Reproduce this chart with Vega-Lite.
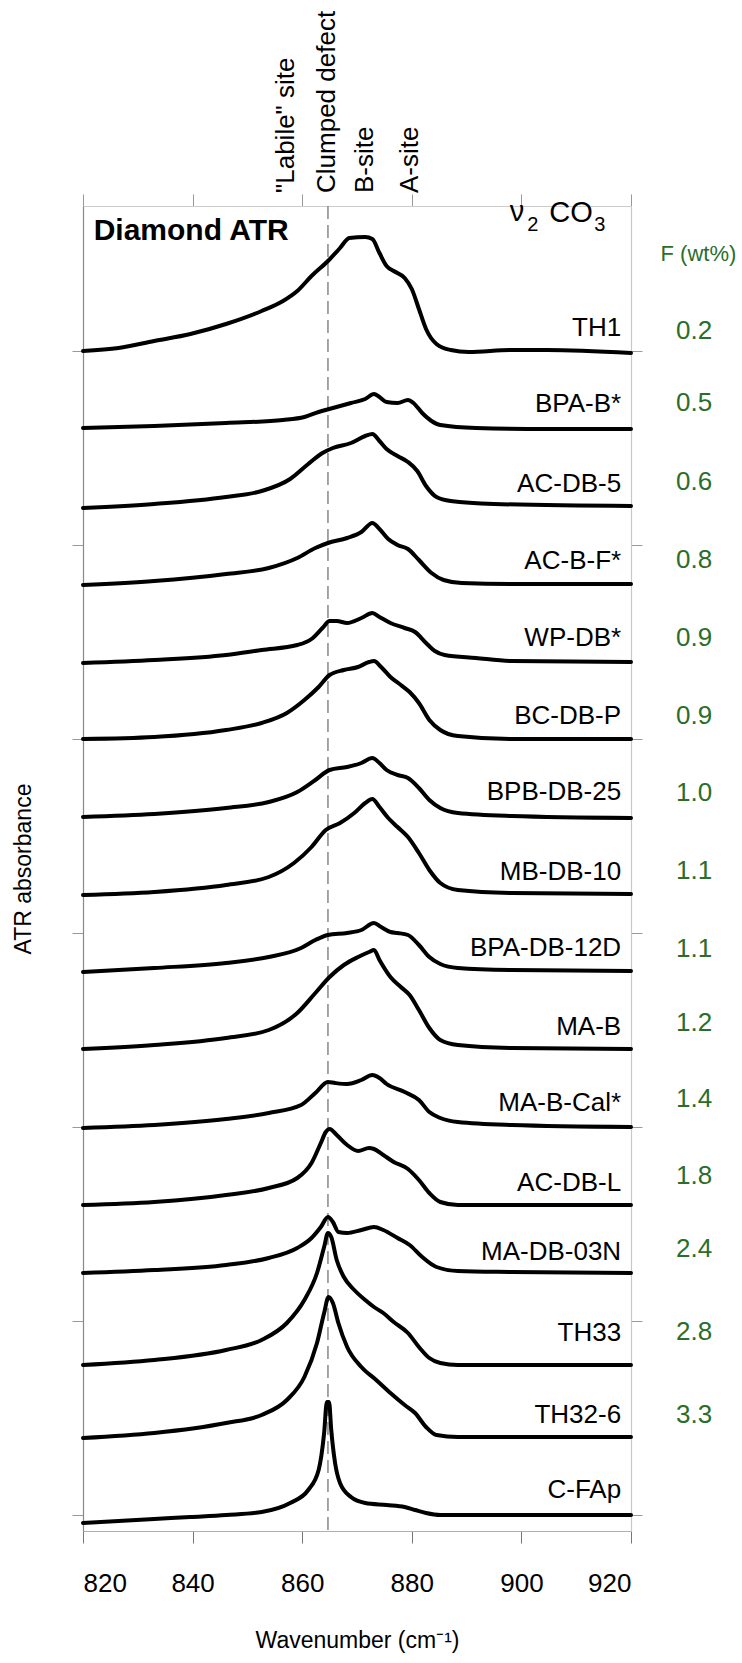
{
"$schema": "https://vega.github.io/schema/vega-lite/v6.json",
"width": 548, "height": 1325,
"autosize": {"type": "none"},
"padding": {"left": 83, "top": 206, "right": 111, "bottom": 132},
"background": "white",
"config": {"view": {"stroke": null}, "font": "Liberation Sans"},
"datasets": {
"spectra": [
{"s":"TH1","x":820,"y":11.80},{"s":"TH1","x":826.5,"y":11.83},{"s":"TH1","x":833,"y":11.90},{"s":"TH1","x":839.6,"y":11.97},{"s":"TH1","x":846.1,"y":12.07},{"s":"TH1","x":852.6,"y":12.20},{"s":"TH1","x":856.5,"y":12.30},{"s":"TH1","x":859.1,"y":12.40},{"s":"TH1","x":861.7,"y":12.55},{"s":"TH1","x":864.7,"y":12.70},{"s":"TH1","x":866.9,"y":12.83},{"s":"TH1","x":868.6,"y":12.93},{"s":"TH1","x":871.5,"y":12.94},{"s":"TH1","x":872.8,"y":12.92},{"s":"TH1","x":874.1,"y":12.78},{"s":"TH1","x":875.4,"y":12.65},{"s":"TH1","x":876.7,"y":12.60},{"s":"TH1","x":878.7,"y":12.53},{"s":"TH1","x":880,"y":12.42},{"s":"TH1","x":881.3,"y":12.22},{"s":"TH1","x":882.6,"y":12.02},{"s":"TH1","x":884.5,"y":11.87},{"s":"TH1","x":887.1,"y":11.81},{"s":"TH1","x":890.4,"y":11.79},{"s":"TH1","x":898.2,"y":11.81},{"s":"TH1","x":904.7,"y":11.81},{"s":"TH1","x":920,"y":11.78},
{"s":"BPA-B*","x":820,"y":11.03},{"s":"BPA-B*","x":833,"y":11.05},{"s":"BPA-B*","x":846.1,"y":11.08},{"s":"BPA-B*","x":856.5,"y":11.11},{"s":"BPA-B*","x":860.4,"y":11.14},{"s":"BPA-B*","x":863,"y":11.19},{"s":"BPA-B*","x":865.6,"y":11.23},{"s":"BPA-B*","x":868.9,"y":11.28},{"s":"BPA-B*","x":871.5,"y":11.32},{"s":"BPA-B*","x":873.1,"y":11.37},{"s":"BPA-B*","x":874.1,"y":11.34},{"s":"BPA-B*","x":875.4,"y":11.29},{"s":"BPA-B*","x":877.4,"y":11.28},{"s":"BPA-B*","x":879.3,"y":11.31},{"s":"BPA-B*","x":880.3,"y":11.28},{"s":"BPA-B*","x":881.9,"y":11.18},{"s":"BPA-B*","x":883.6,"y":11.10},{"s":"BPA-B*","x":885.2,"y":11.06},{"s":"BPA-B*","x":891.7,"y":11.03},{"s":"BPA-B*","x":904.7,"y":11.02},{"s":"BPA-B*","x":920,"y":11.02},
{"s":"AC-DB-5","x":820,"y":10.23},{"s":"AC-DB-5","x":833,"y":10.27},{"s":"AC-DB-5","x":846.1,"y":10.34},{"s":"AC-DB-5","x":852.6,"y":10.40},{"s":"AC-DB-5","x":857.8,"y":10.52},{"s":"AC-DB-5","x":861.1,"y":10.67},{"s":"AC-DB-5","x":863.7,"y":10.78},{"s":"AC-DB-5","x":865.6,"y":10.83},{"s":"AC-DB-5","x":868.9,"y":10.88},{"s":"AC-DB-5","x":871.5,"y":10.95},{"s":"AC-DB-5","x":872.8,"y":10.97},{"s":"AC-DB-5","x":874.1,"y":10.90},{"s":"AC-DB-5","x":875.4,"y":10.82},{"s":"AC-DB-5","x":877.4,"y":10.75},{"s":"AC-DB-5","x":879.3,"y":10.69},{"s":"AC-DB-5","x":881.0,"y":10.60},{"s":"AC-DB-5","x":882.6,"y":10.45},{"s":"AC-DB-5","x":884.5,"y":10.34},{"s":"AC-DB-5","x":887.1,"y":10.30},{"s":"AC-DB-5","x":895.0,"y":10.27},{"s":"AC-DB-5","x":920,"y":10.25},
{"s":"AC-B-F*","x":820,"y":9.46},{"s":"AC-B-F*","x":833,"y":9.50},{"s":"AC-B-F*","x":846.1,"y":9.57},{"s":"AC-B-F*","x":853.9,"y":9.63},{"s":"AC-B-F*","x":859.1,"y":9.73},{"s":"AC-B-F*","x":862.4,"y":9.83},{"s":"AC-B-F*","x":864.7,"y":9.88},{"s":"AC-B-F*","x":868.2,"y":9.93},{"s":"AC-B-F*","x":870.8,"y":9.99},{"s":"AC-B-F*","x":872.8,"y":10.08},{"s":"AC-B-F*","x":874.1,"y":10.02},{"s":"AC-B-F*","x":875.7,"y":9.92},{"s":"AC-B-F*","x":877.4,"y":9.86},{"s":"AC-B-F*","x":879.3,"y":9.82},{"s":"AC-B-F*","x":881.3,"y":9.71},{"s":"AC-B-F*","x":883.6,"y":9.58},{"s":"AC-B-F*","x":885.8,"y":9.51},{"s":"AC-B-F*","x":889.1,"y":9.48},{"s":"AC-B-F*","x":898.2,"y":9.47},{"s":"AC-B-F*","x":920,"y":9.47},
{"s":"WP-DB*","x":820,"y":8.68},{"s":"WP-DB*","x":833,"y":8.71},{"s":"WP-DB*","x":846.1,"y":8.76},{"s":"WP-DB*","x":852.6,"y":8.81},{"s":"WP-DB*","x":859.1,"y":8.86},{"s":"WP-DB*","x":861.7,"y":8.92},{"s":"WP-DB*","x":863.7,"y":9.03},{"s":"WP-DB*","x":865,"y":9.10},{"s":"WP-DB*","x":866.3,"y":9.10},{"s":"WP-DB*","x":868.2,"y":9.08},{"s":"WP-DB*","x":870.8,"y":9.13},{"s":"WP-DB*","x":872.8,"y":9.18},{"s":"WP-DB*","x":874.1,"y":9.14},{"s":"WP-DB*","x":876.1,"y":9.08},{"s":"WP-DB*","x":878.7,"y":9.03},{"s":"WP-DB*","x":880.6,"y":8.99},{"s":"WP-DB*","x":882.6,"y":8.88},{"s":"WP-DB*","x":884.2,"y":8.80},{"s":"WP-DB*","x":886,"y":8.76},{"s":"WP-DB*","x":891.7,"y":8.73},{"s":"WP-DB*","x":898.2,"y":8.70},{"s":"WP-DB*","x":920,"y":8.69},
{"s":"BC-DB-P","x":820,"y":7.92},{"s":"BC-DB-P","x":833,"y":7.94},{"s":"BC-DB-P","x":846.1,"y":8.01},{"s":"BC-DB-P","x":852.6,"y":8.08},{"s":"BC-DB-P","x":857.2,"y":8.18},{"s":"BC-DB-P","x":860.4,"y":8.31},{"s":"BC-DB-P","x":863,"y":8.44},{"s":"BC-DB-P","x":865,"y":8.56},{"s":"BC-DB-P","x":867.6,"y":8.61},{"s":"BC-DB-P","x":870.2,"y":8.64},{"s":"BC-DB-P","x":872.2,"y":8.69},{"s":"BC-DB-P","x":873.1,"y":8.70},{"s":"BC-DB-P","x":874.4,"y":8.64},{"s":"BC-DB-P","x":876.1,"y":8.54},{"s":"BC-DB-P","x":878,"y":8.46},{"s":"BC-DB-P","x":879.6,"y":8.39},{"s":"BC-DB-P","x":881.3,"y":8.28},{"s":"BC-DB-P","x":883.2,"y":8.11},{"s":"BC-DB-P","x":885.2,"y":8.01},{"s":"BC-DB-P","x":888.4,"y":7.95},{"s":"BC-DB-P","x":898.2,"y":7.92},{"s":"BC-DB-P","x":920,"y":7.92},
{"s":"BPB-DB-25","x":820,"y":7.14},{"s":"BPB-DB-25","x":833,"y":7.17},{"s":"BPB-DB-25","x":846.1,"y":7.23},{"s":"BPB-DB-25","x":853.9,"y":7.29},{"s":"BPB-DB-25","x":859.1,"y":7.39},{"s":"BPB-DB-25","x":862.4,"y":7.51},{"s":"BPB-DB-25","x":865,"y":7.61},{"s":"BPB-DB-25","x":868.2,"y":7.64},{"s":"BPB-DB-25","x":870.8,"y":7.68},{"s":"BPB-DB-25","x":872.8,"y":7.73},{"s":"BPB-DB-25","x":874.1,"y":7.68},{"s":"BPB-DB-25","x":875.4,"y":7.61},{"s":"BPB-DB-25","x":877.4,"y":7.56},{"s":"BPB-DB-25","x":879.3,"y":7.53},{"s":"BPB-DB-25","x":881.3,"y":7.43},{"s":"BPB-DB-25","x":883.2,"y":7.31},{"s":"BPB-DB-25","x":885.2,"y":7.23},{"s":"BPB-DB-25","x":888.4,"y":7.18},{"s":"BPB-DB-25","x":898.2,"y":7.15},{"s":"BPB-DB-25","x":920,"y":7.13},
{"s":"MB-DB-10","x":820,"y":6.36},{"s":"MB-DB-10","x":833,"y":6.39},{"s":"MB-DB-10","x":846.1,"y":6.46},{"s":"MB-DB-10","x":853.9,"y":6.54},{"s":"MB-DB-10","x":858.5,"y":6.68},{"s":"MB-DB-10","x":861.7,"y":6.84},{"s":"MB-DB-10","x":864.3,"y":7.01},{"s":"MB-DB-10","x":866.9,"y":7.08},{"s":"MB-DB-10","x":869.5,"y":7.18},{"s":"MB-DB-10","x":871.5,"y":7.28},{"s":"MB-DB-10","x":872.8,"y":7.32},{"s":"MB-DB-10","x":874.1,"y":7.24},{"s":"MB-DB-10","x":875.7,"y":7.13},{"s":"MB-DB-10","x":877.4,"y":7.04},{"s":"MB-DB-10","x":879.3,"y":6.94},{"s":"MB-DB-10","x":881.3,"y":6.78},{"s":"MB-DB-10","x":883.2,"y":6.61},{"s":"MB-DB-10","x":885.2,"y":6.48},{"s":"MB-DB-10","x":888.4,"y":6.41},{"s":"MB-DB-10","x":898.2,"y":6.38},{"s":"MB-DB-10","x":920,"y":6.37},
{"s":"BPA-DB-12D","x":820,"y":5.59},{"s":"BPA-DB-12D","x":833,"y":5.63},{"s":"BPA-DB-12D","x":846.1,"y":5.68},{"s":"BPA-DB-12D","x":853.9,"y":5.74},{"s":"BPA-DB-12D","x":859.8,"y":5.83},{"s":"BPA-DB-12D","x":862.4,"y":5.91},{"s":"BPA-DB-12D","x":864.7,"y":5.96},{"s":"BPA-DB-12D","x":868.2,"y":5.98},{"s":"BPA-DB-12D","x":870.8,"y":6.01},{"s":"BPA-DB-12D","x":873.1,"y":6.08},{"s":"BPA-DB-12D","x":874.4,"y":6.04},{"s":"BPA-DB-12D","x":876.1,"y":5.99},{"s":"BPA-DB-12D","x":877.4,"y":5.98},{"s":"BPA-DB-12D","x":879.3,"y":5.96},{"s":"BPA-DB-12D","x":881.3,"y":5.86},{"s":"BPA-DB-12D","x":883.2,"y":5.74},{"s":"BPA-DB-12D","x":885.2,"y":5.67},{"s":"BPA-DB-12D","x":888.4,"y":5.63},{"s":"BPA-DB-12D","x":898.2,"y":5.61},{"s":"BPA-DB-12D","x":920,"y":5.60},
{"s":"MA-B","x":820,"y":4.82},{"s":"MA-B","x":833,"y":4.86},{"s":"MA-B","x":846.1,"y":4.93},{"s":"MA-B","x":853.9,"y":5.01},{"s":"MA-B","x":859.1,"y":5.18},{"s":"MA-B","x":862.4,"y":5.38},{"s":"MA-B","x":865,"y":5.54},{"s":"MA-B","x":867.6,"y":5.66},{"s":"MA-B","x":870.2,"y":5.74},{"s":"MA-B","x":872.2,"y":5.79},{"s":"MA-B","x":873.1,"y":5.81},{"s":"MA-B","x":874.1,"y":5.71},{"s":"MA-B","x":876.1,"y":5.54},{"s":"MA-B","x":878,"y":5.44},{"s":"MA-B","x":879.6,"y":5.36},{"s":"MA-B","x":881.3,"y":5.21},{"s":"MA-B","x":883.2,"y":5.03},{"s":"MA-B","x":885.2,"y":4.91},{"s":"MA-B","x":888.4,"y":4.86},{"s":"MA-B","x":898.2,"y":4.83},{"s":"MA-B","x":920,"y":4.82},
{"s":"MA-B-Cal*","x":820,"y":4.03},{"s":"MA-B-Cal*","x":833,"y":4.06},{"s":"MA-B-Cal*","x":846.1,"y":4.12},{"s":"MA-B-Cal*","x":853.9,"y":4.18},{"s":"MA-B-Cal*","x":859.8,"y":4.26},{"s":"MA-B-Cal*","x":862.4,"y":4.38},{"s":"MA-B-Cal*","x":864.7,"y":4.49},{"s":"MA-B-Cal*","x":866,"y":4.48},{"s":"MA-B-Cal*","x":868.2,"y":4.47},{"s":"MA-B-Cal*","x":870.8,"y":4.51},{"s":"MA-B-Cal*","x":872.8,"y":4.56},{"s":"MA-B-Cal*","x":874.1,"y":4.53},{"s":"MA-B-Cal*","x":875.4,"y":4.47},{"s":"MA-B-Cal*","x":878.7,"y":4.39},{"s":"MA-B-Cal*","x":881.3,"y":4.31},{"s":"MA-B-Cal*","x":883.2,"y":4.19},{"s":"MA-B-Cal*","x":885.2,"y":4.13},{"s":"MA-B-Cal*","x":888.4,"y":4.09},{"s":"MA-B-Cal*","x":898.2,"y":4.06},{"s":"MA-B-Cal*","x":920,"y":4.04},
{"s":"AC-DB-L","x":820,"y":3.26},{"s":"AC-DB-L","x":833,"y":3.29},{"s":"AC-DB-L","x":846.1,"y":3.36},{"s":"AC-DB-L","x":853.9,"y":3.43},{"s":"AC-DB-L","x":859.1,"y":3.53},{"s":"AC-DB-L","x":861.7,"y":3.68},{"s":"AC-DB-L","x":863.4,"y":3.88},{"s":"AC-DB-L","x":864.3,"y":3.99},{"s":"AC-DB-L","x":865,"y":4.02},{"s":"AC-DB-L","x":866.3,"y":3.96},{"s":"AC-DB-L","x":868.2,"y":3.86},{"s":"AC-DB-L","x":870.2,"y":3.80},{"s":"AC-DB-L","x":872.2,"y":3.83},{"s":"AC-DB-L","x":873.1,"y":3.82},{"s":"AC-DB-L","x":874.8,"y":3.76},{"s":"AC-DB-L","x":876.7,"y":3.69},{"s":"AC-DB-L","x":879.3,"y":3.62},{"s":"AC-DB-L","x":881.3,"y":3.51},{"s":"AC-DB-L","x":883.2,"y":3.38},{"s":"AC-DB-L","x":885.2,"y":3.29},{"s":"AC-DB-L","x":888.4,"y":3.26},{"s":"AC-DB-L","x":898.2,"y":3.26},{"s":"AC-DB-L","x":920,"y":3.26},
{"s":"MA-DB-03N","x":820,"y":2.58},{"s":"MA-DB-03N","x":833,"y":2.61},{"s":"MA-DB-03N","x":846.1,"y":2.66},{"s":"MA-DB-03N","x":853.9,"y":2.73},{"s":"MA-DB-03N","x":859.1,"y":2.83},{"s":"MA-DB-03N","x":861.7,"y":2.93},{"s":"MA-DB-03N","x":863.4,"y":3.04},{"s":"MA-DB-03N","x":864.7,"y":3.14},{"s":"MA-DB-03N","x":865.6,"y":3.09},{"s":"MA-DB-03N","x":866.6,"y":2.99},{"s":"MA-DB-03N","x":868.2,"y":2.98},{"s":"MA-DB-03N","x":870.8,"y":3.01},{"s":"MA-DB-03N","x":873.1,"y":3.04},{"s":"MA-DB-03N","x":874.8,"y":3.01},{"s":"MA-DB-03N","x":877.4,"y":2.93},{"s":"MA-DB-03N","x":879.6,"y":2.86},{"s":"MA-DB-03N","x":881.9,"y":2.74},{"s":"MA-DB-03N","x":884.5,"y":2.64},{"s":"MA-DB-03N","x":888.4,"y":2.60},{"s":"MA-DB-03N","x":898.2,"y":2.59},{"s":"MA-DB-03N","x":920,"y":2.58},
{"s":"TH33","x":820,"y":1.66},{"s":"TH33","x":833,"y":1.71},{"s":"TH33","x":846.1,"y":1.81},{"s":"TH33","x":852.6,"y":1.91},{"s":"TH33","x":857.2,"y":2.08},{"s":"TH33","x":860.4,"y":2.31},{"s":"TH33","x":862.7,"y":2.58},{"s":"TH33","x":864,"y":2.84},{"s":"TH33","x":864.7,"y":2.98},{"s":"TH33","x":865.3,"y":2.94},{"s":"TH33","x":866.3,"y":2.71},{"s":"TH33","x":867.6,"y":2.54},{"s":"TH33","x":869.5,"y":2.41},{"s":"TH33","x":871.5,"y":2.31},{"s":"TH33","x":873.1,"y":2.24},{"s":"TH33","x":874.8,"y":2.18},{"s":"TH33","x":876.7,"y":2.09},{"s":"TH33","x":879.3,"y":1.98},{"s":"TH33","x":881.3,"y":1.84},{"s":"TH33","x":883.2,"y":1.73},{"s":"TH33","x":885.2,"y":1.68},{"s":"TH33","x":888.4,"y":1.66},{"s":"TH33","x":898.2,"y":1.66},{"s":"TH33","x":920,"y":1.66},
{"s":"TH32-6","x":820,"y":0.93},{"s":"TH32-6","x":833,"y":0.98},{"s":"TH32-6","x":846.1,"y":1.08},{"s":"TH32-6","x":852.6,"y":1.16},{"s":"TH32-6","x":857.2,"y":1.31},{"s":"TH32-6","x":860.4,"y":1.54},{"s":"TH32-6","x":862.7,"y":1.88},{"s":"TH32-6","x":864,"y":2.18},{"s":"TH32-6","x":864.8,"y":2.34},{"s":"TH32-6","x":865.6,"y":2.28},{"s":"TH32-6","x":866.6,"y":2.08},{"s":"TH32-6","x":868.2,"y":1.84},{"s":"TH32-6","x":870.8,"y":1.64},{"s":"TH32-6","x":873.5,"y":1.51},{"s":"TH32-6","x":876.1,"y":1.38},{"s":"TH32-6","x":878.7,"y":1.26},{"s":"TH32-6","x":880.6,"y":1.18},{"s":"TH32-6","x":882.6,"y":1.04},{"s":"TH32-6","x":884.5,"y":0.96},{"s":"TH32-6","x":888.4,"y":0.94},{"s":"TH32-6","x":898.2,"y":0.94},{"s":"TH32-6","x":920,"y":0.94},
{"s":"C-FAp","x":820,"y":0.08},{"s":"C-FAp","x":833,"y":0.12},{"s":"C-FAp","x":839.6,"y":0.14},{"s":"C-FAp","x":846.1,"y":0.16},{"s":"C-FAp","x":852.6,"y":0.19},{"s":"C-FAp","x":857.8,"y":0.28},{"s":"C-FAp","x":861.1,"y":0.41},{"s":"C-FAp","x":863,"y":0.61},{"s":"C-FAp","x":864,"y":0.98},{"s":"C-FAp","x":864.5,"y":1.29},{"s":"C-FAp","x":864.9,"y":1.29},{"s":"C-FAp","x":865.3,"y":1.01},{"s":"C-FAp","x":866,"y":0.68},{"s":"C-FAp","x":866.9,"y":0.48},{"s":"C-FAp","x":868.9,"y":0.34},{"s":"C-FAp","x":871.5,"y":0.28},{"s":"C-FAp","x":875.4,"y":0.26},{"s":"C-FAp","x":878.7,"y":0.24},{"s":"C-FAp","x":880.6,"y":0.21},{"s":"C-FAp","x":882.6,"y":0.18},{"s":"C-FAp","x":885.2,"y":0.16},{"s":"C-FAp","x":898.2,"y":0.16},{"s":"C-FAp","x":920,"y":0.16}
],
"labels": [
{"n":"TH1","ly":12.03,"f":"0.2","fy":12.00},
{"n":"BPA-B*","ly":11.27,"f":"0.5","fy":11.28},
{"n":"AC-DB-5","ly":10.47,"f":"0.6","fy":10.49},
{"n":"AC-B-F*","ly":9.70,"f":"0.8","fy":9.71},
{"n":"WP-DB*","ly":8.93,"f":"0.9","fy":8.93},
{"n":"BC-DB-P","ly":8.15,"f":"0.9","fy":8.15},
{"n":"BPB-DB-25","ly":7.39,"f":"1.0","fy":7.38},
{"n":"MB-DB-10","ly":6.59,"f":"1.1","fy":6.60},
{"n":"BPA-DB-12D","ly":5.83,"f":"1.1","fy":5.82},
{"n":"MA-B","ly":5.04,"f":"1.2","fy":5.08},
{"n":"MA-B-Cal*","ly":4.28,"f":"1.4","fy":4.32},
{"n":"AC-DB-L","ly":3.48,"f":"1.8","fy":3.55},
{"n":"MA-DB-03N","ly":2.79,"f":"2.4","fy":2.82},
{"n":"TH33","ly":1.98,"f":"2.8","fy":1.99},
{"n":"TH32-6","ly":1.16,"f":"3.3","fy":1.16},
{"n":"C-FAp","ly":0.41,"f":"","fy":0.41}
],
"sites": [
{"t":"\"Labile\" site","x":857.0},
{"t":"Clumped defect","x":864.5},
{"t":"B-site","x":871.5},
{"t":"A-site","x":879.7}
]
},
"layer": [
{
"data": {"values": [{"x": 864.7}]},
"mark": {"type": "rule", "color": "#888888", "strokeWidth": 1.5, "strokeDash": [13, 6]},
"encoding": {
"x": {"field": "x", "type": "quantitative",
"scale": {"domain": [820, 920], "nice": false, "zero": false},
"axis": {"orient": "bottom", "values": [820, 840, 860, 880, 900, 920], "grid": false,
"tickSize": 12, "tickColor": "#777777", "domainColor": "#b0b0b0", "domainWidth": 1.2,
"labelFontSize": 26, "labelColor": "#000000", "labelFont": "Liberation Sans", "labelPadding": 27,
"title": "Wavenumber (cm⁻¹)", "titleFontSize": 23, "titleFontWeight": "normal", "titleColor": "#000000",
"titleFont": "Liberation Sans", "titlePadding": 33}}
}
},
{
"data": {"name": "spectra"},
"mark": {"type": "line", "color": "#000000", "strokeWidth": 4, "interpolate": "monotone", "strokeJoin": "round", "strokeCap": "round"},
"encoding": {
"x": {"field": "x", "type": "quantitative",
"scale": {"domain": [820, 920], "nice": false, "zero": false},
"axis": {"orient": "top", "values": [820, 840, 860, 880, 900, 920], "grid": false, "labels": false,
"tickSize": 12, "tickColor": "#999999", "domainColor": "#cccccc", "domainWidth": 1.2, "title": null}},
"y": {"field": "y", "type": "quantitative",
"scale": {"domain": [0, 13.25], "nice": false, "zero": false},
"axis": {"orient": "left", "values": [0.16, 2.10, 4.04, 5.98, 7.92, 9.86, 11.80], "grid": false, "labels": false,
"tickSize": 11, "tickColor": "#999999", "domainColor": "#888888", "domainWidth": 1.2,
"title": "ATR absorbance", "titleFontSize": 23, "titleFontWeight": "normal", "titleColor": "#000000",
"titleFont": "Liberation Sans", "titlePadding": 36}},
"detail": {"field": "s"}
}
},
{
"data": {"name": "labels"},
"mark": {"type": "text", "align": "right", "baseline": "middle", "fontSize": 26, "color": "#000000", "font": "Liberation Sans"},
"encoding": {
"x": {"datum": 918.2, "type": "quantitative", "scale": {"domain": [820, 920], "nice": false, "zero": false}, "axis": null},
"y": {"field": "ly", "type": "quantitative",
"scale": {"domain": [0, 13.25], "nice": false, "zero": false},
"axis": {"orient": "right", "values": [0.16, 2.10, 4.04, 5.98, 7.92, 9.86, 11.80], "grid": false, "labels": false,
"tickSize": 11, "tickColor": "#999999", "domainColor": "#c8c8c8", "domainWidth": 1.2, "title": null}},
"text": {"field": "n"}
}
},
{
"data": {"name": "labels"},
"mark": {"type": "text", "align": "center", "baseline": "middle", "fontSize": 26, "color": "#2a6e2a", "font": "Liberation Sans"},
"encoding": {
"x": {"datum": 931.5, "type": "quantitative", "scale": {"domain": [820, 920], "nice": false, "zero": false}, "axis": null},
"y": {"field": "fy", "type": "quantitative", "scale": {"domain": [0, 13.25], "nice": false, "zero": false}, "axis": null},
"text": {"field": "f"}
}
},
{
"data": {"values": [{"t": "F (wt%)", "x": 932.3, "y": 12.77}]},
"mark": {"type": "text", "align": "center", "baseline": "middle", "fontSize": 22, "color": "#2a6e2a", "font": "Liberation Sans"},
"encoding": {
"x": {"field": "x", "type": "quantitative", "scale": {"domain": [820, 920], "nice": false, "zero": false}, "axis": null},
"y": {"field": "y", "type": "quantitative", "scale": {"domain": [0, 13.25], "nice": false, "zero": false}, "axis": null},
"text": {"field": "t"}
}
},
{
"data": {"name": "sites"},
"mark": {"type": "text", "align": "left", "baseline": "middle", "angle": 270, "fontSize": 26, "color": "#000000", "font": "Liberation Sans"},
"encoding": {
"x": {"field": "x", "type": "quantitative", "scale": {"domain": [820, 920], "nice": false, "zero": false}, "axis": null},
"y": {"datum": 13.38, "type": "quantitative", "scale": {"domain": [0, 13.25], "nice": false, "zero": false}, "axis": null},
"text": {"field": "t"}
}
},
{
"data": {"values": [{"t": "Diamond ATR", "x": 821.95, "y": 13.0}]},
"mark": {"type": "text", "align": "left", "baseline": "middle", "fontSize": 30, "fontWeight": "bold", "color": "#000000", "font": "Liberation Sans"},
"encoding": {
"x": {"field": "x", "type": "quantitative", "scale": {"domain": [820, 920], "nice": false, "zero": false}, "axis": null},
"y": {"field": "y", "type": "quantitative", "scale": {"domain": [0, 13.25], "nice": false, "zero": false}, "axis": null},
"text": {"field": "t"}
}
},
{
"data": {"values": [{"t": "ν", "x": 899.2, "y": 13.19}, {"t": "CO", "x": 909.05, "y": 13.18}]},
"mark": {"type": "text", "align": "center", "baseline": "middle", "fontSize": 29, "color": "#000000", "font": "Liberation Sans"},
"encoding": {
"x": {"field": "x", "type": "quantitative", "scale": {"domain": [820, 920], "nice": false, "zero": false}, "axis": null},
"y": {"field": "y", "type": "quantitative", "scale": {"domain": [0, 13.25], "nice": false, "zero": false}, "axis": null},
"text": {"field": "t"}
}
},
{
"data": {"values": [{"t": "2", "x": 902.1, "y": 13.06}, {"t": "3", "x": 914.3, "y": 13.06}]},
"mark": {"type": "text", "align": "center", "baseline": "middle", "fontSize": 20, "color": "#000000", "font": "Liberation Sans"},
"encoding": {
"x": {"field": "x", "type": "quantitative", "scale": {"domain": [820, 920], "nice": false, "zero": false}, "axis": null},
"y": {"field": "y", "type": "quantitative", "scale": {"domain": [0, 13.25], "nice": false, "zero": false}, "axis": null},
"text": {"field": "t"}
}
}
],
"resolve": {"axis": {"x": "independent", "y": "independent"}}
}
